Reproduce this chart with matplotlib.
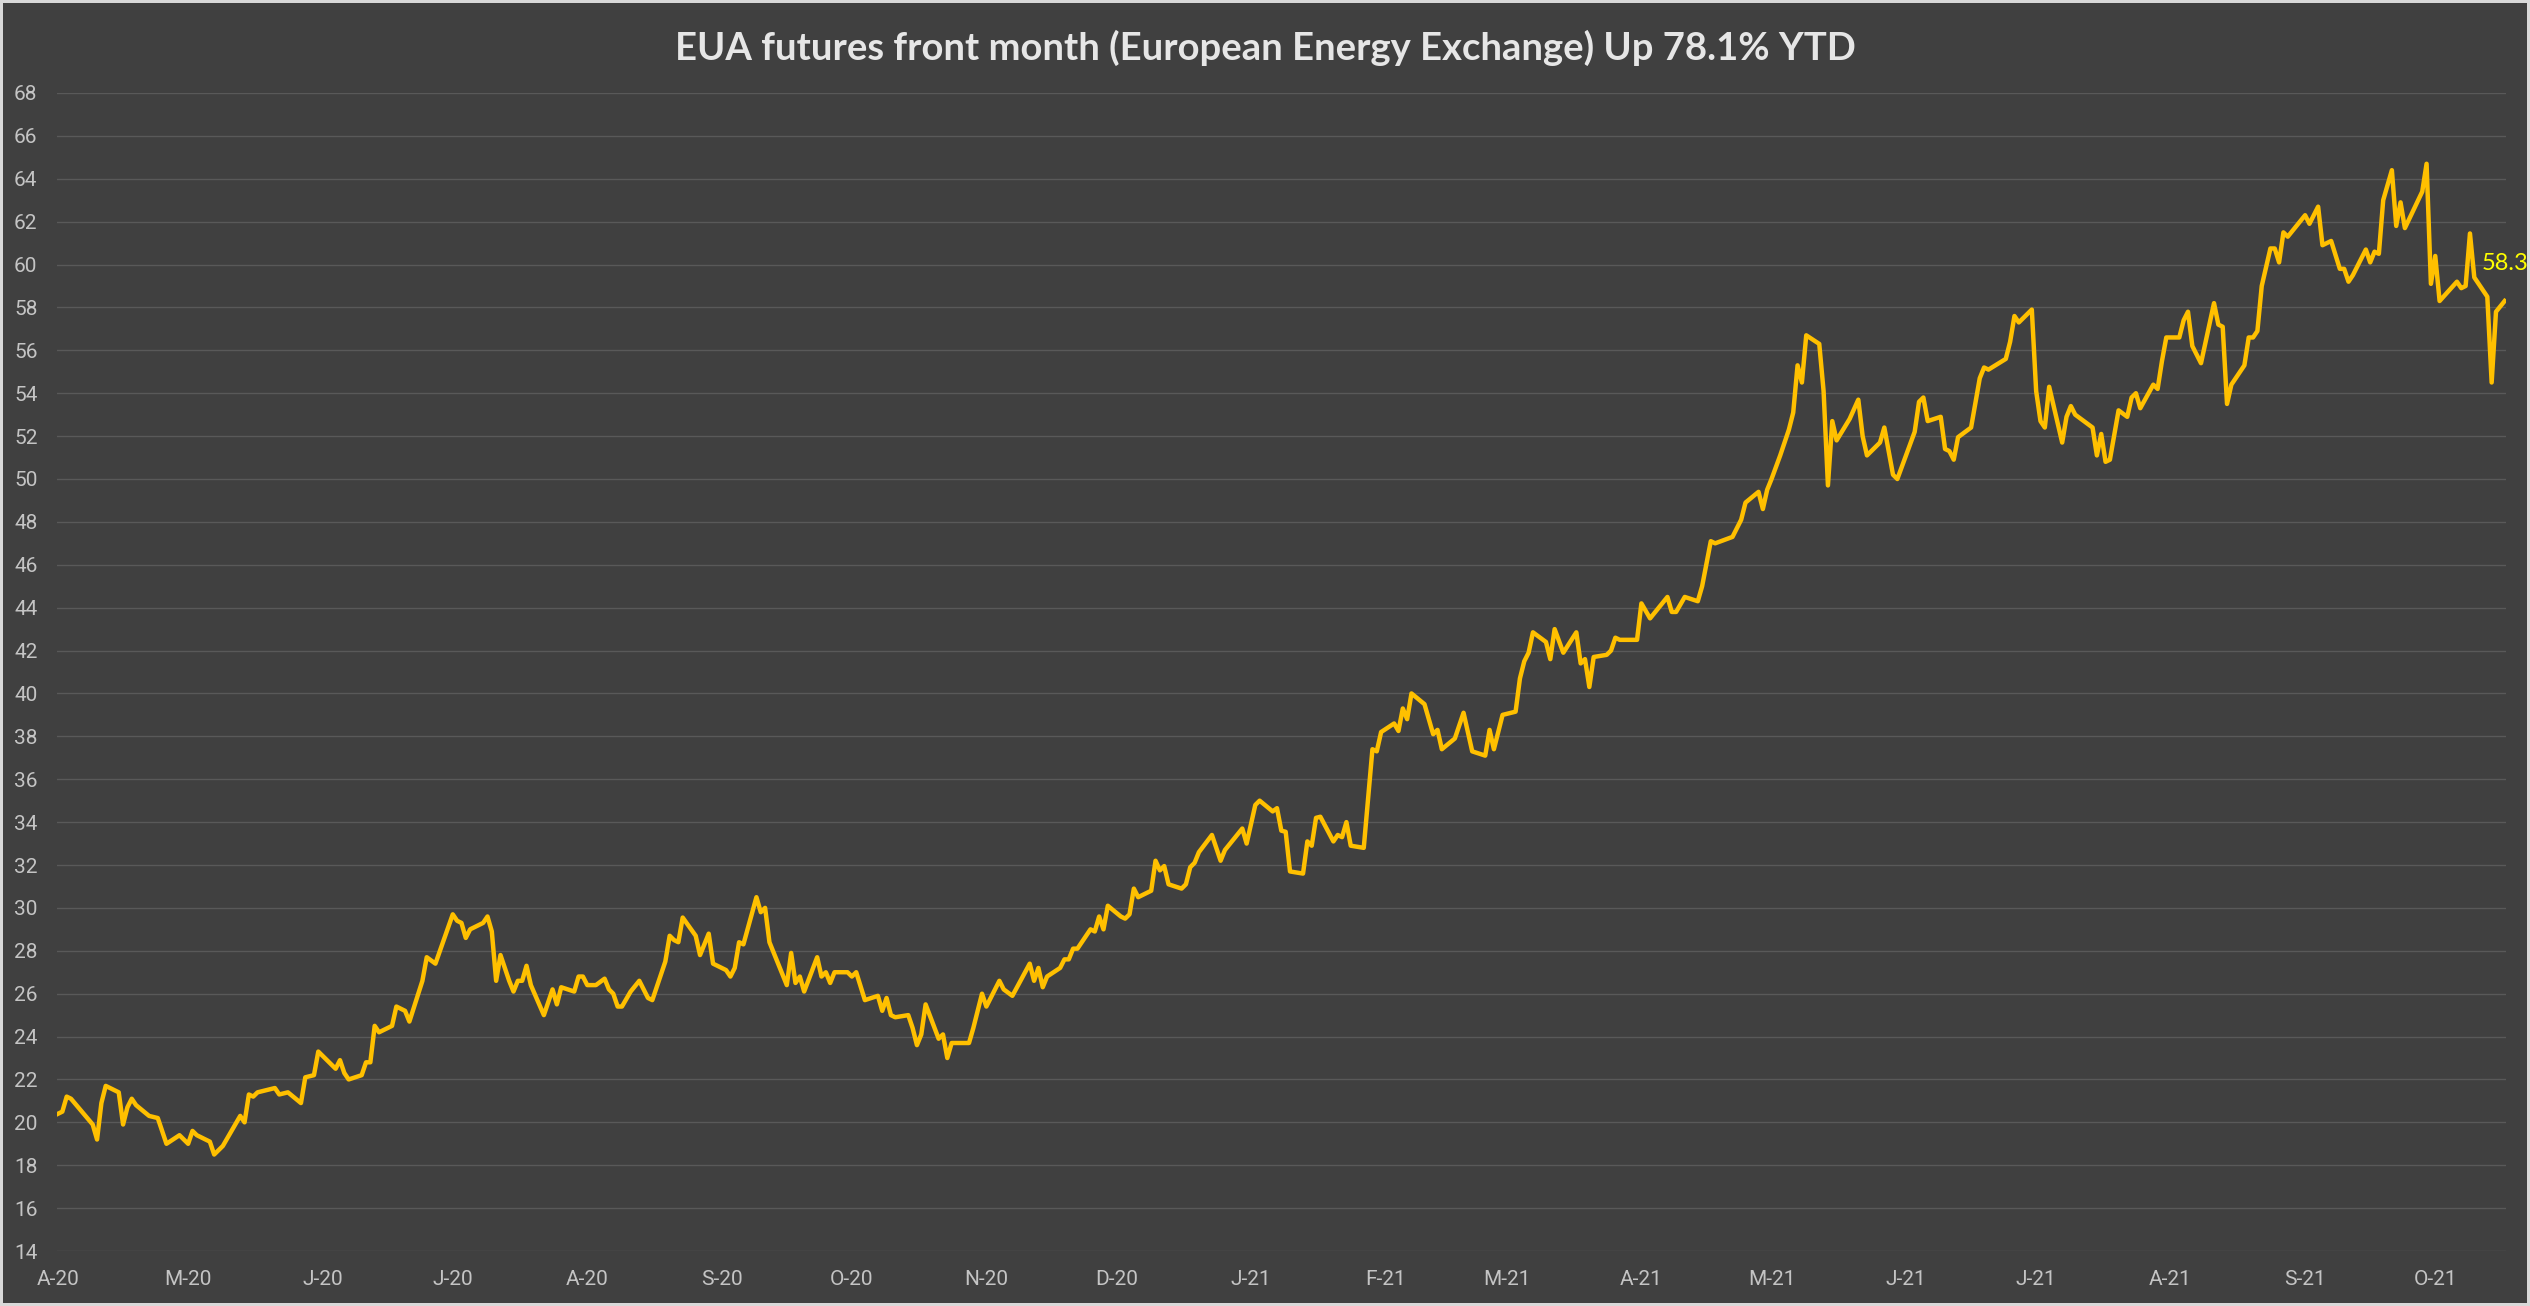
import matplotlib
matplotlib.use("Agg")
import matplotlib.pyplot as plt
import pandas as pd

# calendar days since 1 Apr 2020 and EUA front-month settlement (EUR/t)
day = [0, 1, 2, 3, 8, 9, 10, 11, 14, 15, 16, 17, 18, 21, 23, 25, 28, 30, 31, 32,
       35, 36, 38, 40, 42, 43, 44, 45, 46, 50, 51, 53, 56, 57, 59, 60, 63, 64, 65, 66,
       67, 70, 71, 72, 73, 74, 77, 78, 80, 81, 84, 85, 87, 91, 92, 93, 94, 95, 98, 99,
       100, 101, 102, 104, 105, 106, 107, 108, 109, 112, 114, 115, 116, 119, 120, 121, 122, 124, 126, 127,
       128, 129, 130, 132, 134, 136, 137, 140, 141, 142, 143, 144, 147, 148, 150, 151, 154, 155, 156, 157,
       158, 161, 162, 163, 164, 168, 169, 170, 171, 172, 175, 176, 177, 178, 179, 182, 183, 184, 186, 189,
       190, 191, 192, 193, 196, 197, 198, 199, 200, 203, 204, 205, 206, 207, 210, 211, 213, 214, 217, 218,
       220, 224, 225, 226, 227, 228, 231, 232, 233, 234, 235, 238, 239, 240, 241, 242, 245, 246, 247, 248,
       249, 252, 253, 254, 255, 256, 259, 260, 261, 262, 263, 266, 268, 269, 273, 274, 276, 277, 280, 281,
       282, 283, 284, 287, 288, 289, 290, 291, 294, 295, 296, 297, 298, 301, 303, 304, 305, 308, 309, 310,
       311, 312, 315, 317, 318, 319, 322, 324, 326, 329, 330, 331, 333, 336, 337, 338, 339, 340, 343, 344,
       345, 347, 350, 351, 352, 353, 354, 357, 358, 359, 360, 364, 365, 367, 371, 372, 373, 375, 378, 379,
       381, 382, 386, 387, 388, 389, 392, 393, 394, 395, 397, 399, 400, 401, 402, 403, 406, 407, 408, 409,
       410, 413, 415, 416, 417, 420, 421, 423, 424, 428, 429, 430, 431, 434, 435, 436, 437, 438, 441, 443,
       444, 445, 449, 450, 451, 452, 455, 456, 457, 458, 459, 462, 463, 464, 465, 469, 470, 471, 472, 473,
       475, 477, 478, 479, 480, 483, 484, 485, 486, 489, 490, 491, 492, 494, 497, 498, 499, 500, 501, 504,
       505, 506, 507, 508, 510, 511, 512, 513, 514, 518, 519, 521, 522, 524, 526, 527, 528, 529, 532, 533,
       534, 535, 536, 538, 539, 540, 541, 545, 546, 547, 548, 549, 553, 554, 555, 556, 557, 560, 561, 562,
       564]
price = [20.4, 20.5, 21.2, 21.1, 19.9, 19.2, 20.9, 21.7, 21.4, 19.9, 20.7, 21.1, 20.8, 20.3, 20.2, 19.0, 19.4, 19.0, 19.6, 19.4,
         19.1, 18.5, 18.9, 19.6, 20.3, 20.0, 21.3, 21.2, 21.4, 21.6, 21.3, 21.4, 20.9, 22.1, 22.2, 23.3, 22.7, 22.5, 22.9, 22.3,
         22.0, 22.2, 22.8, 22.8, 24.5, 24.2, 24.5, 25.4, 25.2, 24.7, 26.6, 27.7, 27.4, 29.7, 29.4, 29.3, 28.6, 29.0, 29.3, 29.6,
         28.9, 26.6, 27.8, 26.6, 26.1, 26.6, 26.6, 27.3, 26.4, 25.0, 26.2, 25.5, 26.3, 26.1, 26.8, 26.8, 26.4, 26.4, 26.7, 26.2,
         26.0, 25.4, 25.4, 26.1, 26.6, 25.8, 25.7, 27.5, 28.7, 28.5, 28.4, 29.55, 28.7, 27.8, 28.8, 27.4, 27.1, 26.8, 27.2, 28.4,
         28.3, 30.5, 29.8, 30.0, 28.4, 26.4, 27.9, 26.5, 26.8, 26.1, 27.7, 26.8, 27.0, 26.5, 27.0, 27.0, 26.8, 27.0, 25.7, 25.9,
         25.2, 25.8, 25.0, 24.9, 25.0, 24.4, 23.6, 24.1, 25.5, 23.9, 24.1, 23.0, 23.7, 23.7, 23.7, 24.4, 26.0, 25.4, 26.6, 26.2,
         25.9, 27.4, 26.6, 27.2, 26.3, 26.8, 27.2, 27.6, 27.6, 28.1, 28.1, 29.0, 28.9, 29.6, 29.0, 30.1, 29.6, 29.5, 29.7, 30.9,
         30.5, 30.8, 32.2, 31.75, 31.95, 31.1, 30.9, 31.1, 31.9, 32.1, 32.6, 33.4, 32.2, 32.7, 33.7, 33.0, 34.8, 35.0, 34.5, 34.65,
         33.6, 33.55, 31.7, 31.6, 33.1, 32.9, 34.2, 34.25, 33.1, 33.4, 33.3, 34.0, 32.9, 32.8, 37.4, 37.3, 38.2, 38.6, 38.25, 39.3,
         38.8, 40.0, 39.5, 38.1, 38.3, 37.4, 37.9, 39.1, 37.3, 37.1, 38.3, 37.4, 39.0, 39.15, 40.7, 41.5, 41.9, 42.85, 42.4, 41.6,
         43.0, 41.9, 42.85, 41.4, 41.6, 40.3, 41.7, 41.8, 42.0, 42.6, 42.5, 42.5, 44.2, 43.5, 44.5, 43.8, 43.8, 44.5, 44.3, 45.0,
         47.1, 47.0, 47.3, 47.7, 48.1, 48.9, 49.4, 48.6, 49.5, 50.0, 51.1, 52.3, 53.1, 55.3, 54.5, 56.7, 56.3, 54.1, 49.7, 52.7,
         51.8, 52.8, 53.7, 52.0, 51.1, 51.7, 52.4, 50.2, 50.0, 52.2, 53.6, 53.8, 52.7, 52.9, 51.4, 51.3, 50.9, 51.95, 52.4, 54.7,
         55.2, 55.1, 55.6, 56.4, 57.6, 57.3, 57.9, 54.1, 52.7, 52.4, 54.3, 51.7, 52.9, 53.4, 53.0, 52.4, 51.1, 52.1, 50.8, 50.9,
         53.2, 52.9, 53.8, 54.0, 53.3, 54.4, 54.2, 55.5, 56.6, 56.6, 57.4, 57.8, 56.2, 55.4, 58.2, 57.2, 57.1, 53.5, 54.4, 55.3,
         56.6, 56.6, 56.9, 59.0, 60.75, 60.75, 60.1, 61.5, 61.3, 62.3, 61.9, 62.7, 60.9, 61.1, 59.8, 59.8, 59.2, 59.5, 60.7, 60.1,
         60.6, 60.5, 63.0, 64.4, 61.8, 62.9, 61.7, 63.4, 64.7, 59.1, 60.4, 58.3, 59.2, 58.9, 59.0, 61.45, 59.4, 58.5, 54.5, 57.8,
         58.3]

month_labels = ["A-20", "M-20", "J-20", "J-20", "A-20", "S-20", "O-20", "N-20", "D-20", "J-21",
                "F-21", "M-21", "A-21", "M-21", "J-21", "J-21", "A-21", "S-21", "O-21"]
title = "EUA futures front month (European Energy Exchange) Up 78.1% YTD"

bg = "#404040"
start = pd.Timestamp("2020-04-01")
dates = start + pd.to_timedelta(day, unit="D")
month_starts = pd.date_range("2020-04-01", "2021-10-01", freq="MS")

fig = plt.figure(figsize=(25.3, 13.06), dpi=100)
fig.patch.set_facecolor(bg)
fig.patch.set_edgecolor("#d9d9d9")
fig.patch.set_linewidth(3)

ax = fig.add_axes([0.0225, 0.0421, 0.968, 0.8867])
ax.set_facecolor(bg)
ax.plot(dates, price, color="#FFC000", lw=3.2)

ax.set_ylim(14, 68)
ax.set_yticks(range(14, 69, 2))
ax.set_xlim(start - pd.Timedelta(hours=6), start + pd.Timedelta(days=564.3))
ax.set_xticks(month_starts)
ax.set_xticklabels(month_labels)

ax.yaxis.grid(True, color="#595959", lw=1.0)
ax.set_axisbelow(True)
for s in ax.spines.values():
    s.set_visible(False)
ax.tick_params(length=0, labelcolor="#C4C4C4", labelsize=15, pad=14)
for lab in ax.get_xticklabels() + ax.get_yticklabels():
    lab.set_family(["Roboto", "DejaVu Sans"])

ax.annotate(f"{price[-1]:.1f}", xy=(dates[-1], price[-1]), xytext=(0, 27),
            textcoords="offset points", ha="center", va="center",
            color="#FFFF00", fontsize=17, family=["Lato", "DejaVu Sans"],
            annotation_clip=False)

fig.text(0.5, 1 - 48 / 1306, title, ha="center", va="center", fontsize=27.5,
         fontweight="bold", color="#E6E6E6", family=["Lato", "DejaVu Sans"])

fig.savefig("out.png", dpi=100, facecolor=fig.get_facecolor(), edgecolor=fig.get_edgecolor())
